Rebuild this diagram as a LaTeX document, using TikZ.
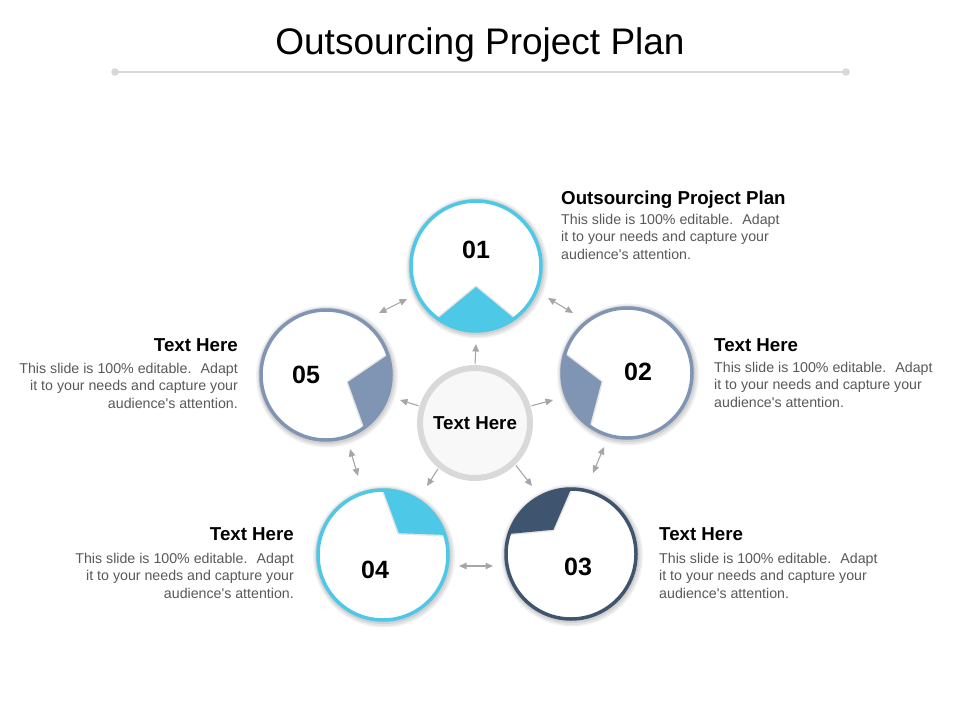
\documentclass[tikz,border=0pt]{standalone}
\usepackage{fontspec}
\setmainfont{Liberation Sans}[Ligatures=TeXOff]
\usetikzlibrary{arrows.meta}
\definecolor{cyanc}{RGB}{77,200,230}
\definecolor{slatec}{RGB}{127,149,179}
\definecolor{navyc}{RGB}{63,84,111}
\definecolor{arrowc}{RGB}{166,166,166}
\definecolor{ringc}{RGB}{217,217,217}
\definecolor{centerfill}{RGB}{248,248,248}
\definecolor{bodyc}{RGB}{89,89,89}
\definecolor{linec}{RGB}{217,217,217}
% #1 cx, #2 cy, #3 radius, #4 direction (screen angle), #5 apex offset, #6 style
\newcommand\piewedge[6]{%
  \path[#6] ({#1+#5*cos(#4)},{#2-#5*sin(#4)}) -- ({#1+#3*cos(#4+36)},{#2-#3*sin(#4+36)})
    arc[start angle={-(#4+36)}, end angle={-(#4-36)}, radius=#3] -- cycle;}
\newcommand\circshadow[2]{%
  \fill[black,opacity=0.05] ({#1+1},{#2+1.5}) circle (71);
  \fill[black,opacity=0.06] ({#1+1},{#2+1.5}) circle (69.5);
  \fill[black,opacity=0.08] ({#1+0.5},{#2+1}) circle (68);
  \fill[white] (#1,#2) circle (65);}
\tikzset{
  tipa/.tip={Triangle[length=7.5pt,width=6.5pt]},
  conn/.style={draw=arrowc, line width=1.1pt, -tipa, shorten <=1pt},
  dconn/.style={draw=arrowc, line width=1.1pt, tipa-tipa},
  ring/.style={circle, minimum size=130pt, inner sep=0pt, line width=3.5pt},
  numtxt/.style={font=\bfseries\fontsize{25}{25}\selectfont, inner sep=0pt},
  headtxt/.style={font=\bfseries\fontsize{18.7}{21}\selectfont, inner sep=0pt, text=black},
  bodytxt/.style={font=\fontsize{14.2}{17.5}\selectfont, text=bodyc, inner sep=0pt},
  wshadow/.style={draw=black, draw opacity=0.10, line width=3pt, line join=round},
}
\begin{document}
\begin{tikzpicture}[x=1pt,y=-1pt]
\useasboundingbox (0,0) rectangle (960,720);
\fill[white] (0,0) rectangle (960,720);

% title
\node[inner sep=0pt, font=\fontsize{37}{40}\selectfont, anchor=base] (title) at (480,54.3) {Outsourcing Project Plan};
\coordinate (l1) at (115,72);
\coordinate (l2) at (846,72);
\draw[linec, line width=1.3pt] (l1) -- (l2);
\fill[linec] (l1) circle (3.8);
\fill[linec] (l2) circle (3.8);

% circle 01
\circshadow{476}{266}
\piewedge{476}{266}{65}{270}{21}{wshadow}
\piewedge{476}{266}{65}{270}{21}{fill=cyanc}
\node[ring, draw=cyanc] (n1) at (476,266) {};
\node[numtxt] (t1) at (476,250) {01};

% circle 02
\circshadow{627}{373}
\piewedge{627}{373}{65}{199}{27}{wshadow}
\piewedge{627}{373}{65}{199}{27}{fill=slatec}
\node[ring, draw=slatec] (n2) at (627,373) {};
\node[numtxt] (t2) at (638,372) {02};

% circle 03
\circshadow{571}{554}
\piewedge{571}{554}{65}{126}{30}{wshadow}
\piewedge{571}{554}{65}{126}{30}{fill=navyc}
\node[ring, draw=navyc] (n3) at (571,554) {};
\node[numtxt] (t3) at (578,567) {03};

% circle 04
\circshadow{383}{555}
\piewedge{383}{555}{65}{54}{27}{wshadow}
\piewedge{383}{555}{65}{54}{27}{fill=cyanc}
\node[ring, draw=cyanc] (n4) at (383,555) {};
\node[numtxt] (t4) at (375,570) {04};

% circle 05
\circshadow{326}{375}
\piewedge{326}{375}{65}{-18}{23}{wshadow}
\piewedge{326}{375}{65}{-18}{23}{fill=slatec}
\node[ring, draw=slatec] (n5) at (326,375) {};
\node[numtxt] (t5) at (306,375) {05};

% center
\node[circle, minimum size=110pt, inner sep=0pt, line width=6pt, draw=ringc, fill=centerfill,
      font=\bfseries\fontsize{18.7}{21}\selectfont] (c) at (475,423) {Text Here};

% radiating arrows
\coordinate (e1) at (476,344);
\coordinate (e2) at (400,400);
\coordinate (e3) at (553,400);
\coordinate (e4) at (427,486);
\coordinate (e5) at (532,486);
\draw[conn] (c.90) -- (e1);
\draw[conn] (c.163) -- (e2);
\draw[conn] (c.17) -- (e3);
\draw[conn] (c.231) -- (e4);
\draw[conn] (c.314) -- (e5);

% double arrows between circles
\coordinate (a15) at (379,313); \coordinate (b15) at (407,299);
\coordinate (a12) at (548,298); \coordinate (b12) at (573,313);
\coordinate (a23) at (593,473); \coordinate (b23) at (604,447);
\coordinate (a34) at (459,566); \coordinate (b34) at (493,566);
\coordinate (a45) at (350,449); \coordinate (b45) at (358,476);
\draw[dconn] (a15) -- (b15);
\draw[dconn] (a12) -- (b12);
\draw[dconn] (a23) -- (b23);
\draw[dconn] (a34) -- (b34);
\draw[dconn] (a45) -- (b45);

% text blocks
\node[headtxt, anchor=base west] (h1) at (561,204) {Outsourcing Project Plan};
\node[bodytxt, anchor=north west, align=left] (b1) at (561,214) {This slide is 100\% editable.~ Adapt\\it to your needs and capture your\\audience's attention.};

\node[headtxt, anchor=base west] (h2) at (714,351.5) {Text Here};
\node[bodytxt, anchor=north west, align=left] (bb2) at (714,362) {This slide is 100\% editable.~ Adapt\\it to your needs and capture your\\audience's attention.};

\node[headtxt, anchor=base west] (h3) at (659,540.5) {Text Here};
\node[bodytxt, anchor=north west, align=left] (bb3) at (659,553) {This slide is 100\% editable.~ Adapt\\it to your needs and capture your\\audience's attention.};

\node[headtxt, anchor=base east] (h5) at (238,351.5) {Text Here};
\node[bodytxt, anchor=north east, align=right] (bb5) at (238,363) {This slide is 100\% editable.~ Adapt\\it to your needs and capture your\\audience's attention.};

\node[headtxt, anchor=base east] (h4) at (294,540.5) {Text Here};
\node[bodytxt, anchor=north east, align=right] (bb4) at (294,553) {This slide is 100\% editable.~ Adapt\\it to your needs and capture your\\audience's attention.};
\end{tikzpicture}
\end{document}
